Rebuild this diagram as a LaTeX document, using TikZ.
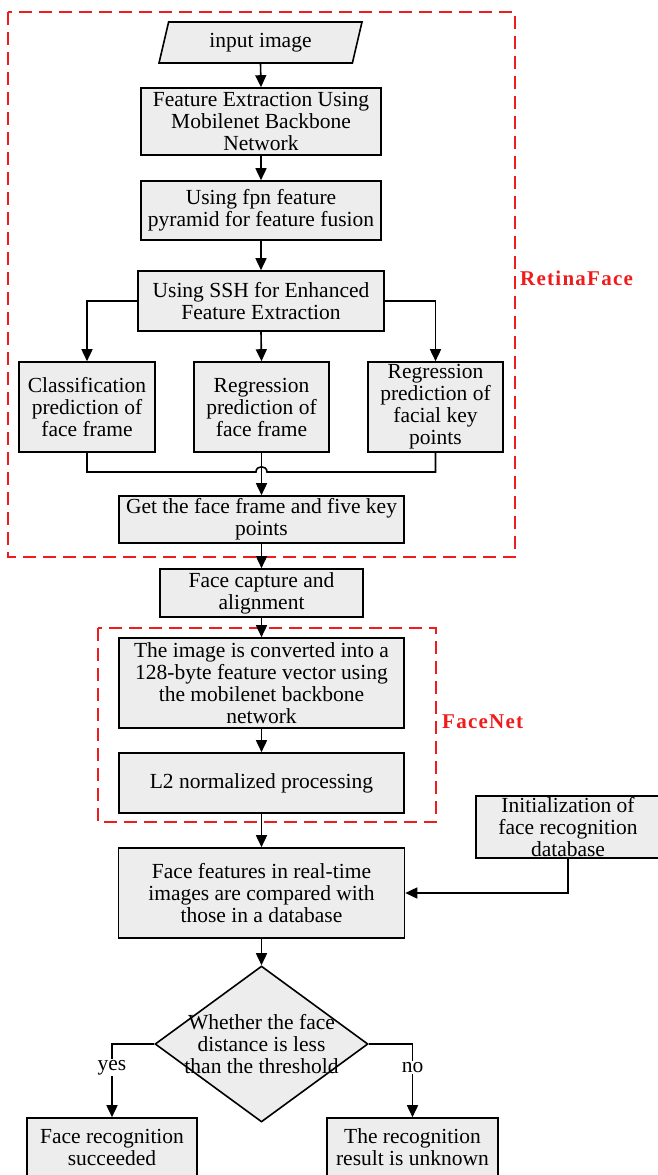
\documentclass[tikz,border=0pt]{standalone}
\usepackage{fontspec}
\setmainfont{Liberation Serif}
\newfontfamily\tagfont[LetterSpace=6]{Liberation Serif}
\usetikzlibrary{arrows.meta,shapes.geometric}
\definecolor{boxgray}{HTML}{EDEDED}
\definecolor{groupred}{HTML}{EE1C1C}

\begin{document}
\begin{tikzpicture}[x=1pt,y=-1pt,
  txt/.style={font=\fontsize{21.5}{22}\selectfont, align=center},
  box/.style={txt, draw, fill=boxgray, line width=1.6pt, inner sep=0pt},
  link/.style={line width=1.6pt},
  arr/.style={link, -{Triangle[length=12pt,width=11pt]}},
  group/.style={draw=groupred, line width=2pt, dash pattern=on 13pt off 7pt},
  grouplabel/.style={text=groupred, font=\tagfont\bfseries\fontsize{21}{22}\selectfont, anchor=west, inner sep=0pt},
  branch/.style={txt, fill=white, inner sep=1pt}
]
\useasboundingbox (0,0) rectangle (657,1175);

% dashed group frames
\draw[group] (8,12) rectangle (515,557);
\draw[group] (98,628) rectangle (436,822);
\node[grouplabel] (retinalabel) at (520,278) {RetinaFace};
\node[grouplabel] (facenetlabel) at (442,722) {FaceNet};

% RetinaFace stage
\node[box, shape=trapezium, trapezium left angle=63, trapezium right angle=117,
      trapezium stretches body, minimum width=203, minimum height=41] (input) at (260.5,42.5) {input image};
\node[box, minimum width=240, minimum height=67] (fe) at (261,121.5) {Feature Extraction Using\\Mobilenet Backbone\\Network};
\node[box, minimum width=240, minimum height=59] (fpn) at (261,210.5) {Using fpn feature\\pyramid for feature fusion};
\node[box, minimum width=246, minimum height=60] (ssh) at (261,301) {Using SSH for Enhanced\\Feature Extraction};
\node[box, minimum width=136, minimum height=90] (cls) at (87,407) {Classification\\prediction of\\face frame};
\node[box, minimum width=135, minimum height=90] (reg) at (261.5,407) {Regression\\prediction of\\face frame};
\node[box, minimum width=135, minimum height=90] (kp) at (435.5,407) {Regression\\prediction of\\facial key\\points};
\node[box, minimum width=285, minimum height=47] (get) at (261.5,519.5) {Get the face frame and five key\\points};

% alignment and FaceNet stage
\node[box, minimum width=203, minimum height=48] (capture) at (261.5,593) {Face capture and\\alignment};
\node[box, minimum width=285, minimum height=90] (conv) at (261.5,683) {The image is converted into a\\128-byte feature vector using\\the mobilenet backbone\\network};
\node[box, minimum width=285, minimum height=60] (l2) at (261.5,783) {L2 normalized processing};

% matching and decision
\node[box, minimum width=184, minimum height=62] (init) at (568,827) {Initialization of\\face recognition\\database};
\node[box, minimum width=286, minimum height=90] (ff) at (261.5,893) {Face features in real-time\\images are compared with\\those in a database};
\node[draw, fill=boxgray, line width=1.6pt, shape=diamond, inner sep=0pt, minimum width=213, minimum height=156] (dec) at (261.5,1044) {};
\node[txt] (dectext) at (dec.center) {Whether the face\\distance is less\\than the threshold};
\node[box, minimum width=170, minimum height=59] (yes) at (112,1147.5) {Face recognition\\succeeded};
\node[box, minimum width=171, minimum height=59] (unk) at (412.5,1147.5) {The recognition\\result is unknown};

% connectors
\draw[arr] (input.south) -- (fe.north);
\draw[arr] (fe.south) -- (fpn.north);
\draw[arr] (fpn.south) -- (ssh.north);
\draw[arr] (ssh.west) -| (cls.north);
\draw[arr] (ssh.south) -- (reg.north);
\draw[arr] (ssh.east) -| (kp.north);

\coordinate (hopL) at (256,472);
\coordinate (hopR) at (267,472);
\draw[link] (cls.south) |- (hopL) .. controls (256,465) and (267,465) .. (hopR) -| (kp.south);
\draw[arr] (reg.south) -- (get.north);

\draw[arr] (get.south) -- (capture.north);
\draw[arr] (capture.south) -- (conv.north);
\draw[arr] (conv.south) -- (l2.north);
\draw[arr] (l2.south) -- (ff.north);
\draw[arr] (init.south) |- (ff.east);
\draw[arr] (ff.south) -- (dec.north);

\draw[arr] (dec.west) -| node[branch, pos=0.66] {yes} (yes.north);
\draw[arr] (dec.east) -| node[branch, pos=0.66] {no} (unk.north);
\end{tikzpicture}
\end{document}
